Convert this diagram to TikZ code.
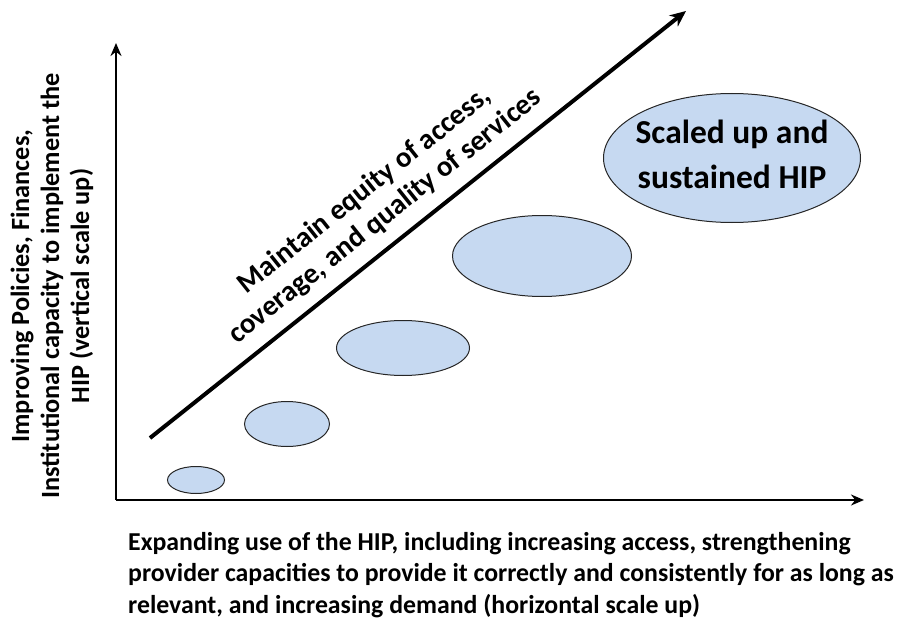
\documentclass[tikz,border=0pt]{standalone}
\usepackage{fontspec}
\setmainfont{Carlito}
\usetikzlibrary{arrows.meta,shapes.geometric}

\definecolor{blobblue}{HTML}{C6D9F1}
\tikzset{
  blob/.style={ellipse, draw=black!85, line width=1pt, fill=blobblue, inner sep=0pt},
  axis/.style={-{Stealth[length=13pt,width=11pt]}, line width=2.6pt},
}

\begin{document}
\begin{tikzpicture}[x=1pt, y=-1pt, every node/.style={font=\bfseries}]
  \useasboundingbox (0,0) rectangle (906,618);
  % axes
  \coordinate (origin) at (116,500);
  \coordinate (ytip) at (116,43);
  \coordinate (xtip) at (864,500);
  \draw[axis] (origin) -- (ytip);
  \draw[axis] (origin) -- (xtip);
  % the ellipses, small to large
  \node[blob, minimum width=57, minimum height=27] (b1) at (196,480) {};
  \node[blob, minimum width=85, minimum height=45] (b2) at (287,424) {};
  \node[blob, minimum width=133, minimum height=55] (b3) at (403,348) {};
  \node[blob, minimum width=179, minimum height=81] (b4) at (542,256) {};
  \node[blob, minimum width=257, minimum height=129] (b5) at (732,158) {};
  \node[font=\bfseries\fontsize{33.5}{45}\selectfont, align=center] (b5text) at (732,154)
    {Scaled up and\\sustained HIP};
  % diagonal arrow
  \coordinate (dstart) at (150,438);
  \coordinate (dend) at (686,11);
  \draw[-{Stealth[length=16pt,width=14pt]}, line width=4pt] (dstart) -- (dend)
    node[pos=0.47, above=11pt, inner sep=1pt, sloped, align=center,
         font=\bfseries\fontsize{29}{33}\selectfont] (equity)
    {Maintain equity of access,\\coverage, and quality of services};
  % axis labels
  \node[rotate=90, align=center, font=\bfseries\fontsize{26.3}{30}\selectfont] (ylabel) at (52,286)
    {Improving Policies, Finances,\\Institutional capacity to implement the\\HIP (vertical scale up)};
  \node[anchor=north west, inner sep=0pt, align=left, font=\bfseries\fontsize{25.8}{31.5}\selectfont] (xlabel) at (128,532)
    {Expanding use of the HIP, including increasing access, strengthening\\provider capacities to provide it correctly and consistently for as long as\\relevant, and increasing demand (horizontal scale up)};
\end{tikzpicture}
\end{document}
